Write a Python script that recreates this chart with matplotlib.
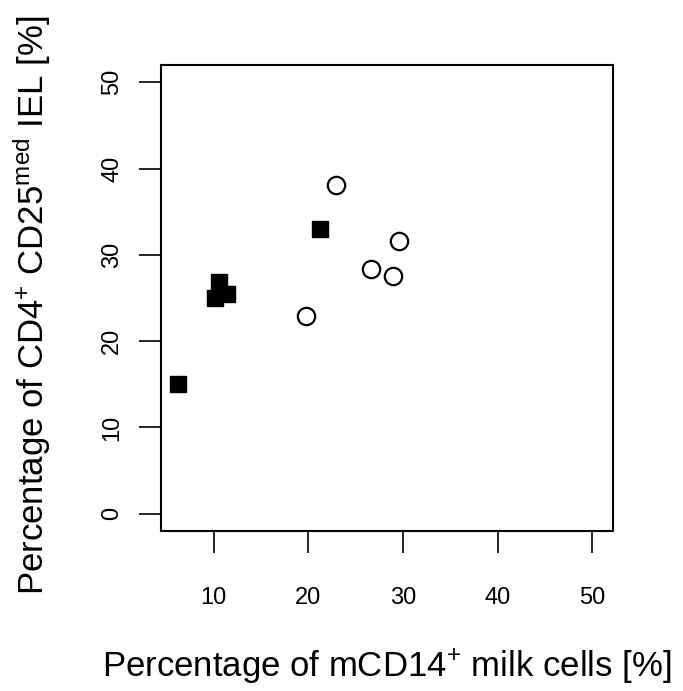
import matplotlib

matplotlib.use("Agg")
import matplotlib.pyplot as plt

plt.rcParams["font.family"] = ["Liberation Sans", "DejaVu Sans"]
plt.rcParams["mathtext.fontset"] = "custom"
plt.rcParams["mathtext.rm"] = "Liberation Sans"
plt.rcParams["mathtext.it"] = "Liberation Sans"

# filled squares
group_a_x = [6.2, 10.6, 11.4, 10.1, 21.2]
group_a_y = [15.0, 26.9, 25.5, 25.0, 33.0]
# open circles
group_b_x = [22.9, 29.6, 26.6, 28.9, 19.7]
group_b_y = [38.1, 31.6, 28.4, 27.6, 22.9]

x_ticks = [10, 20, 30, 40, 50]
y_ticks = [0, 10, 20, 30, 40, 50]

fig = plt.figure(figsize=(6.83, 6.91), dpi=100)
ax = fig.add_axes([0.2353, 0.2315, 0.6627, 0.6744])

ax.plot(group_a_x, group_a_y, linestyle="none", marker="s", markersize=11.5,
        markerfacecolor="black", markeredgecolor="black")
ax.plot(group_b_x, group_b_y, linestyle="none", marker="o", markersize=12.5,
        markerfacecolor="white", markeredgecolor="black", markeredgewidth=1.6)

ax.set_xlim(4.4, 52.22)
ax.set_ylim(-2, 52)
ax.set_xticks(x_ticks)
ax.set_yticks(y_ticks)
ax.set_xticklabels([str(t) for t in x_ticks])
ax.set_yticklabels([str(t) for t in y_ticks], rotation=90, va="center")
ax.tick_params(length=16, width=1.2, labelsize=17)
ax.tick_params(axis="x", pad=24)
ax.tick_params(axis="y", pad=11)

for s in ax.spines.values():
    s.set_linewidth(1.5)

ax.set_xlabel(r"Percentage of mCD14$^{+}$ milk cells [%]", fontsize=25, va="baseline")
ax.set_ylabel(r"Percentage of CD4$^{+}$ CD25$^{\mathrm{med}}$ IEL [%]", fontsize=25, va="baseline")
ax.xaxis.set_label_coords(0.5, -0.3127)
ax.yaxis.set_label_coords(-0.2578, 0.485)

fig.savefig("out.png", dpi=100)
